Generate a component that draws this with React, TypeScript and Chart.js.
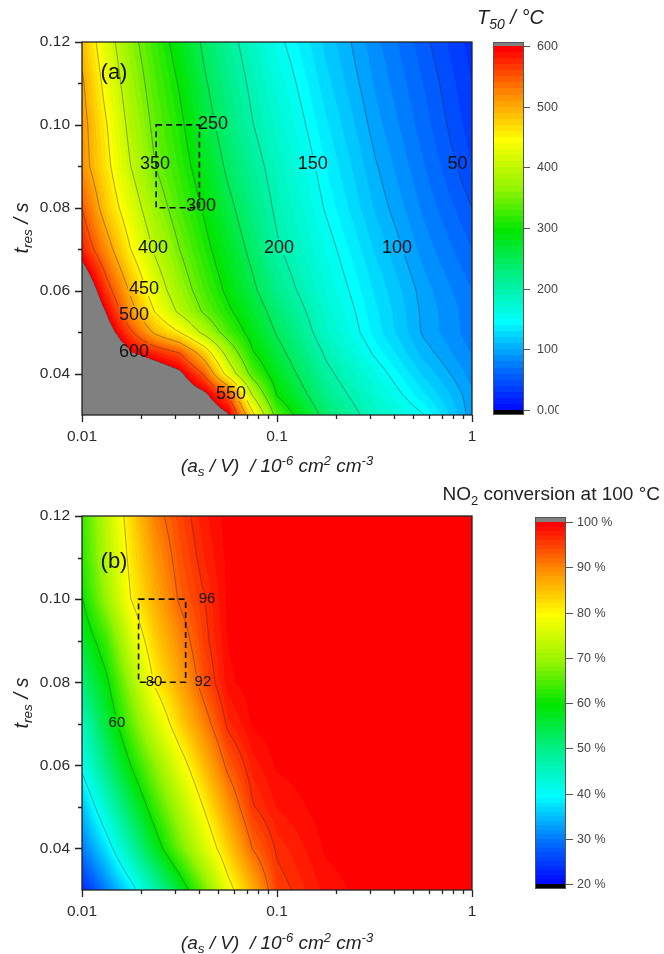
import React, { useEffect, useRef } from "react";
import { Chart, registerables } from "chart.js";
Chart.register(...registerables);

// ---------------- data ----------------
// x grid: (a_s / V) / 1e-6 cm2 cm-3  (log axis)
const AS_V = [0.01, 0.01334, 0.01778, 0.02371, 0.03162, 0.04217, 0.05623, 0.07499, 0.1, 0.1778, 0.3162, 0.5623, 1];

// panel (a): T50 / °C
const T_RES_A = [0.03, 0.035, 0.04, 0.045, 0.05, 0.055, 0.06, 0.07, 0.08, 0.09, 0.1, 0.11, 0.12];
const T50_030 = [780, 760, 730, 700, 670, 640, 605, 462, 333, 237, 185, 151, 93];
const T50_035 = [760, 730, 700, 670, 640, 610, 550, 395, 297, 221, 174, 132, 92];
const T50_040 = [740, 700, 670, 640, 610, 546, 430, 334, 278, 208, 162, 118, 85];
const T50_045 = [720, 660, 602, 576, 550, 479, 381, 303, 262, 196, 147, 106, 79];
const T50_050 = [700, 625, 556, 492, 450, 388, 329, 284, 247, 183, 136, 98, 74];
const T50_055 = [675, 597, 514, 448, 392, 345, 306, 271, 235, 176, 133, 97, 74];
const T50_060 = [653, 567, 494, 426, 373, 330, 292, 257, 221, 169, 129, 95, 70];
const T50_070 = [580, 518, 450, 394, 350, 311, 275, 240, 204, 159, 119, 86, 60];
const T50_080 = [550, 480, 423, 371, 331, 296, 259, 225, 194, 148, 109, 78, 50];
const T50_090 = [518, 461, 400, 350, 317, 281, 243, 213, 186, 140, 102, 71, 40];
const T50_100 = [515, 452, 387, 341, 308, 266, 231, 201, 176, 132, 95, 65, 34];
const T50_110 = [506, 436, 375, 332, 297, 255, 222, 193, 167, 124, 89, 60, 30];
const T50_120 = [490, 421, 363, 322, 284, 244, 212, 183, 156, 117, 84, 54, 25];

// panel (b): NO2 conversion at 100 °C / %
const T_RES_B = [0.03, 0.04, 0.05, 0.06, 0.07, 0.08, 0.09, 0.1, 0.11, 0.12];
const CONV_030 = [23, 30.5, 38, 46.8, 56, 66.6, 78.1, 86.3, 95, 98.4, 99.7, 100, 100];
const CONV_040 = [30, 37.6, 46.9, 57.1, 66.4, 75.4, 84, 92.2, 96.4, 99.2, 99.9, 100, 100];
const CONV_050 = [35, 44.2, 53.8, 63.1, 71.7, 80.3, 88.7, 95.8, 98.1, 99.6, 100, 100, 100];
const CONV_060 = [41, 50.5, 60, 68.6, 77.2, 85.4, 93.1, 97.5, 99.2, 99.8, 100, 100, 100];
const CONV_070 = [45, 55.4, 65.4, 75, 83.3, 90.1, 96.7, 99.2, 99.8, 100, 100, 100, 100];
const CONV_080 = [51, 59, 70, 80.8, 87, 93.8, 98.7, 99.7, 100, 100, 100, 100, 100];
const CONV_090 = [56, 63.3, 75.2, 83.6, 89.6, 95.2, 99.1, 99.8, 100, 100, 100, 100, 100];
const CONV_100 = [59.7, 69.6, 80, 86.5, 92.5, 95.9, 99.3, 99.9, 100, 100, 100, 100, 100];
const CONV_110 = [62, 72, 81.4, 88.4, 93.6, 97, 99.4, 100, 100, 100, 100, 100, 100];
const CONV_120 = [63, 73, 82.8, 90.5, 94.6, 97.7, 99.6, 100, 100, 100, 100, 100, 100];

const T50_LEVELS = [50, 100, 150, 200, 250, 300, 350, 400, 450, 500, 550, 600];
const CONV_LEVELS = [40, 60, 80, 92, 96];

const T50_LABEL_TEXT = ["250", "350", "300", "150", "50", "400", "200", "100", "450", "500", "600", "550"];
const T50_LABEL_X = [0.047, 0.0237, 0.0408, 0.1527, 0.8417, 0.0231, 0.1024, 0.4121, 0.0208, 0.0185, 0.0185, 0.0581];
const T50_LABEL_Y = [0.1005, 0.0908, 0.0807, 0.0908, 0.0908, 0.0705, 0.0705, 0.0705, 0.0606, 0.0544, 0.0455, 0.0353];

const CONV_LABEL_TEXT = ["96", "92", "80", "60"];
const CONV_LABEL_X = [0.0438, 0.0417, 0.0234, 0.0151];
const CONV_LABEL_Y = [0.1003, 0.0803, 0.0803, 0.0704];

const BOX_A_X = [0.024, 0.04];
const BOX_A_Y = [0.08, 0.1];
const BOX_B_X = [0.0195, 0.034];
const BOX_B_Y = [0.08, 0.1];

const X_MAJOR = [0.01, 0.1, 1];
const X_MINOR = [0.02, 0.03, 0.04, 0.05, 0.06, 0.07, 0.08, 0.09, 0.2, 0.3, 0.4, 0.5, 0.6, 0.7, 0.8, 0.9];
const Y_MAJOR = [0.04, 0.06, 0.08, 0.1, 0.12];
const Y_MINOR = [0.05, 0.07, 0.09, 0.11];

const T50_BAR_TICKS = [0, 100, 200, 300, 400, 500, 600];
const T50_BAR_LABELS = ["0.00", "100", "200", "300", "400", "500", "600"];
const CONV_BAR_TICKS = [20, 30, 40, 50, 60, 70, 80, 90, 100];
const CONV_BAR_LABELS = ["20 %", "30 %", "40 %", "50 %", "60 %", "70 %", "80 %", "90 %", "100 %"];

// ---------------- helpers ----------------
const FAMILY = "'Liberation Sans', Arial, Helvetica, sans-serif";
const CM_POS = [0, 0.12, 0.25, 0.375, 0.5, 0.62, 0.75, 0.875, 1];
const CM_RGB = [
  [0, 0, 255], [0, 110, 255], [0, 255, 255], [0, 240, 140], [0, 230, 0],
  [150, 245, 0], [255, 255, 0], [255, 140, 0], [255, 0, 0],
];

function cmap(f: number): number[] {
  f = Math.max(0, Math.min(1, f));
  let k = 0;
  while (k < CM_POS.length - 2 && f > CM_POS[k + 1]) k++;
  const r = (f - CM_POS[k]) / (CM_POS[k + 1] - CM_POS[k]);
  const a = CM_RGB[k], b = CM_RGB[k + 1];
  return [a[0] + (b[0] - a[0]) * r, a[1] + (b[1] - a[1]) * r, a[2] + (b[2] - a[2]) * r];
}

function colorFor(v: number, vmin: number, vmax: number, step: number): number[] {
  if (v > vmax + 1e-6) return [128, 128, 128];
  if (v < vmin) return [0, 0, 0];
  const q = Math.min(vmax, Math.floor((v - vmin) / step) * step + vmin + step);
  return cmap((q - vmin) / (vmax - vmin));
}

function makeField(xs: number[], ys: number[], rows: number[][]) {
  const lx = xs.map((v) => Math.log10(v));
  return (x: number, y: number) => {
    const u = Math.log10(x);
    let i = 0;
    while (i < lx.length - 2 && u > lx[i + 1]) i++;
    let j = 0;
    while (j < ys.length - 2 && y > ys[j + 1]) j++;
    const fx = Math.max(0, Math.min(1, (u - lx[i]) / (lx[i + 1] - lx[i])));
    const fy = Math.max(0, Math.min(1, (y - ys[j]) / (ys[j + 1] - ys[j])));
    const a = rows[j][i], b = rows[j][i + 1], c = rows[j + 1][i], d = rows[j + 1][i + 1];
    return a * (1 - fx) * (1 - fy) + b * fx * (1 - fy) + c * (1 - fx) * fy + d * fx * fy;
  };
}

type Rich = { t: string; s: number; dy?: number; it?: boolean };

function drawRich(ctx: CanvasRenderingContext2D, parts: Rich[], x: number, y: number, align: string, color: string) {
  const fonts = parts.map((p) => `${p.it ? "italic " : ""}${p.s}px ${FAMILY}`);
  let total = 0;
  const ws = parts.map((p, k) => {
    ctx.font = fonts[k];
    const w = ctx.measureText(p.t).width;
    total += w;
    return w;
  });
  let cx = align === "center" ? x - total / 2 : align === "right" ? x - total : x;
  ctx.fillStyle = color;
  ctx.textAlign = "left";
  ctx.textBaseline = "alphabetic";
  parts.forEach((p, k) => {
    ctx.font = fonts[k];
    ctx.fillText(p.t, cx, y + (p.dy || 0));
    cx += ws[k];
  });
}

function marching(ctx: CanvasRenderingContext2D, F: Float32Array, W: number, H: number, L: number, T: number, level: number) {
  ctx.beginPath();
  const s = 1;
  for (let j = 0; j + s < H; j += s) {
    for (let i = 0; i + s < W; i += s) {
      const a = F[j * W + i], b = F[j * W + i + s], c = F[(j + s) * W + i + s], d = F[(j + s) * W + i];
      const idx = (a > level ? 8 : 0) | (b > level ? 4 : 0) | (c > level ? 2 : 0) | (d > level ? 1 : 0);
      if (idx === 0 || idx === 15) continue;
      const x0 = L + i + 0.5, y0 = T + j + 0.5;
      const pT = () => [x0 + (s * (level - a)) / (b - a), y0];
      const pR = () => [x0 + s, y0 + (s * (level - b)) / (c - b)];
      const pB = () => [x0 + (s * (level - d)) / (c - d), y0 + s];
      const pL = () => [x0, y0 + (s * (level - a)) / (d - a)];
      const seg = (p: number[], q: number[]) => {
        ctx.moveTo(p[0], p[1]);
        ctx.lineTo(q[0], q[1]);
      };
      switch (idx) {
        case 1: case 14: seg(pL(), pB()); break;
        case 2: case 13: seg(pB(), pR()); break;
        case 3: case 12: seg(pL(), pR()); break;
        case 4: case 11: seg(pT(), pR()); break;
        case 5: seg(pT(), pR()); seg(pL(), pB()); break;
        case 6: case 9: seg(pT(), pB()); break;
        case 7: case 8: seg(pL(), pT()); break;
        case 10: seg(pL(), pT()); seg(pB(), pR()); break;
      }
    }
  }
  ctx.stroke();
}

const X_TITLE: Rich[] = [
  { t: "(a", s: 19, it: true },
  { t: "s", s: 13.5, it: true, dy: 4 },
  { t: " / V)  / 10", s: 19, it: true },
  { t: "-6", s: 13, it: true, dy: -7 },
  { t: " cm", s: 19, it: true },
  { t: "2", s: 13, it: true, dy: -7 },
  { t: " cm", s: 19, it: true },
  { t: "-3", s: 13, it: true, dy: -7 },
];
const Y_TITLE: Rich[] = [
  { t: "t", s: 20, it: true },
  { t: "res", s: 13.5, it: true, dy: 4 },
  { t: " / s", s: 20, it: true },
];

interface Panel {
  id: string;
  padTop: number;
  xAxisH: number;
  ys: number[];
  rows: number[][];
  vmin: number;
  vmax: number;
  step: number;
  levels: number[];
  labText: string[];
  labX: number[];
  labY: number[];
  labSize: number;
  boxX: number[];
  boxY: number[];
  letter: string;
  letterX: number;
  letterY: number;
  cb: { x0: number; x1: number; yTop: number; yBot: number; capTop: number; capBot: number; tickEnd: number; labelX: number; clipRight: number };
  cbTicks: number[];
  cbLabels: string[];
  cbTitle: Rich[];
  cbTitleX: number;
  cbTitleY: number;
  cbTitleAlign: string;
  yTitleCenter: number;
}

const PANEL_A: Panel = {
  id: "a",
  padTop: 42,
  xAxisH: 62,
  ys: T_RES_A,
  rows: [T50_030, T50_035, T50_040, T50_045, T50_050, T50_055, T50_060, T50_070, T50_080, T50_090, T50_100, T50_110, T50_120],
  vmin: 0,
  vmax: 600,
  step: 10,
  levels: T50_LEVELS,
  labText: T50_LABEL_TEXT,
  labX: T50_LABEL_X,
  labY: T50_LABEL_Y,
  labSize: 18,
  boxX: BOX_A_X,
  boxY: BOX_A_Y,
  letter: "(a)",
  letterX: 114,
  letterY: 73,
  cb: { x0: 493, x1: 524, yTop: 46, yBot: 410, capTop: 42, capBot: 415, tickEnd: 530, labelX: 537, clipRight: 559 },
  cbTicks: T50_BAR_TICKS,
  cbLabels: T50_BAR_LABELS,
  cbTitle: [
    { t: "T", s: 20, it: true },
    { t: "50", s: 14, it: true, dy: 5 },
    { t: " / °C", s: 20, it: true },
  ],
  cbTitleX: 477,
  cbTitleY: 24,
  cbTitleAlign: "left",
  yTitleCenter: 228,
};

const PANEL_B: Panel = {
  id: "b",
  padTop: 39,
  xAxisH: 64,
  ys: T_RES_B,
  rows: [CONV_030, CONV_040, CONV_050, CONV_060, CONV_070, CONV_080, CONV_090, CONV_100, CONV_110, CONV_120],
  vmin: 20,
  vmax: 100,
  step: 1,
  levels: CONV_LEVELS,
  labText: CONV_LABEL_TEXT,
  labX: CONV_LABEL_X,
  labY: CONV_LABEL_Y,
  labSize: 15,
  boxX: BOX_B_X,
  boxY: BOX_B_Y,
  letter: "(b)",
  letterX: 114,
  letterY: 85,
  cb: { x0: 535, x1: 566, yTop: 45, yBot: 407, capTop: 40, capBot: 412, tickEnd: 573, labelX: 577, clipRight: 664 },
  cbTicks: CONV_BAR_TICKS,
  cbLabels: CONV_BAR_LABELS,
  cbTitle: [
    { t: "NO", s: 19 },
    { t: "2", s: 13, dy: 5 },
    { t: " conversion at 100 °C", s: 19 },
  ],
  cbTitleX: 660,
  cbTitleY: 23,
  cbTitleAlign: "right",
  yTitleCenter: 226,
};

function buildChart(canvas: HTMLCanvasElement, cfg: Panel) {
  const field = makeField(AS_V, cfg.ys, cfg.rows);
  let store: { F: Float32Array; img: ImageData; L: number; T: number; W: number; H: number } | null = null;

  const plugin = {
    id: "contourfill" + cfg.id,
    beforeDatasetsDraw(chart: any) {
      const ctx: CanvasRenderingContext2D = chart.ctx;
      const area = chart.chartArea;
      const xs = chart.scales.x, ys = chart.scales.y;
      const L = Math.round(area.left), T = Math.round(area.top);
      const W = Math.round(area.right) - L, H = Math.round(area.bottom) - T;
      const img = ctx.createImageData(W, H);
      const F = new Float32Array(W * H);
      const colX = new Array(W);
      for (let i = 0; i < W; i++) colX[i] = xs.getValueForPixel(L + i + 0.5);
      for (let j = 0; j < H; j++) {
        const y = ys.getValueForPixel(T + j + 0.5);
        for (let i = 0; i < W; i++) {
          const v = field(colX[i], y);
          F[j * W + i] = v;
          const c = colorFor(v, cfg.vmin, cfg.vmax, cfg.step);
          const o = (j * W + i) * 4;
          img.data[o] = c[0];
          img.data[o + 1] = c[1];
          img.data[o + 2] = c[2];
          img.data[o + 3] = 255;
        }
      }
      ctx.putImageData(img, L, T);
      store = { F, img, L, T, W, H };
    },
    afterDraw(chart: any) {
      if (!store) return;
      const ctx: CanvasRenderingContext2D = chart.ctx;
      const area = chart.chartArea;
      const xs = chart.scales.x, ys = chart.scales.y;
      const { F, img, L, T, W, H } = store;

      // contour lines
      ctx.save();
      ctx.strokeStyle = "rgba(40,40,40,0.55)";
      ctx.lineWidth = 0.8;
      cfg.levels.forEach((lv) => marching(ctx, F, W, H, L, T, lv));
      ctx.restore();

      // contour labels (restore fill under text, then write)
      ctx.save();
      ctx.font = `${cfg.labSize}px ${FAMILY}`;
      cfg.labText.forEach((txt, k) => {
        const px = xs.getPixelForValue(cfg.labX[k]);
        const py = ys.getPixelForValue(cfg.labY[k]);
        const tw = ctx.measureText(txt).width;
        const th = cfg.labSize * 0.78;
        const rx = Math.round(px - tw / 2 - 1), ry = Math.round(py - th / 2 - 1);
        const rw = Math.round(tw + 2), rh = Math.round(th + 2);
        ctx.putImageData(img, L, T, rx - L, ry - T, rw, rh);
        ctx.fillStyle = "#111";
        ctx.textAlign = "center";
        ctx.textBaseline = "middle";
        ctx.fillText(txt, px, py + 1);
      });
      ctx.restore();

      // dashed box
      ctx.save();
      ctx.strokeStyle = "#111";
      ctx.lineWidth = 1.6;
      ctx.setLineDash([6, 4]);
      const bx0 = xs.getPixelForValue(cfg.boxX[0]), bx1 = xs.getPixelForValue(cfg.boxX[1]);
      const by0 = ys.getPixelForValue(cfg.boxY[1]), by1 = ys.getPixelForValue(cfg.boxY[0]);
      ctx.strokeRect(bx0, by0, bx1 - bx0, by1 - by0);
      ctx.restore();

      // frame + ticks
      ctx.save();
      ctx.strokeStyle = "#222";
      ctx.lineWidth = 1.3;
      ctx.strokeRect(area.left, area.top, area.right - area.left, area.bottom - area.top);
      ctx.beginPath();
      Y_MAJOR.forEach((v) => {
        const y = Math.round(ys.getPixelForValue(v)) + 0.5;
        ctx.moveTo(area.left - 7, y);
        ctx.lineTo(area.left, y);
      });
      Y_MINOR.forEach((v) => {
        const y = Math.round(ys.getPixelForValue(v)) + 0.5;
        ctx.moveTo(area.left - 4, y);
        ctx.lineTo(area.left, y);
      });
      X_MAJOR.forEach((v) => {
        const x = Math.round(xs.getPixelForValue(v)) + 0.5;
        ctx.moveTo(x, area.bottom);
        ctx.lineTo(x, area.bottom + 7);
      });
      X_MINOR.forEach((v) => {
        const x = Math.round(xs.getPixelForValue(v)) + 0.5;
        ctx.moveTo(x, area.bottom);
        ctx.lineTo(x, area.bottom + 4);
      });
      ctx.stroke();
      ctx.restore();

      // panel letter
      ctx.save();
      ctx.font = `22px ${FAMILY}`;
      ctx.fillStyle = "#111";
      ctx.textAlign = "center";
      ctx.textBaseline = "middle";
      ctx.fillText(cfg.letter, cfg.letterX, cfg.letterY);
      ctx.restore();

      // colour bar
      const cb = cfg.cb;
      ctx.save();
      for (let py = cb.yTop; py < cb.yBot; py++) {
        const v = cfg.vmin + ((cb.yBot - py - 0.5) / (cb.yBot - cb.yTop)) * (cfg.vmax - cfg.vmin);
        const c = colorFor(v, cfg.vmin, cfg.vmax, cfg.step);
        ctx.fillStyle = `rgb(${c[0] | 0},${c[1] | 0},${c[2] | 0})`;
        ctx.fillRect(cb.x0, py, cb.x1 - cb.x0, 1);
      }
      ctx.fillStyle = "rgb(128,128,128)";
      ctx.fillRect(cb.x0, cb.capTop, cb.x1 - cb.x0, cb.yTop - cb.capTop);
      ctx.fillStyle = "#000";
      ctx.fillRect(cb.x0, cb.yBot, cb.x1 - cb.x0, cb.capBot - cb.yBot);
      ctx.strokeStyle = "#555";
      ctx.lineWidth = 1;
      ctx.strokeRect(cb.x0 + 0.5, cb.capTop + 0.5, cb.x1 - cb.x0 - 1, cb.capBot - cb.capTop - 1);
      ctx.beginPath();
      ctx.rect(0, 0, cb.clipRight, chart.height);
      ctx.clip();
      ctx.beginPath();
      cfg.cbTicks.forEach((v, k) => {
        const y = Math.round(cb.yBot - ((v - cfg.vmin) / (cfg.vmax - cfg.vmin)) * (cb.yBot - cb.yTop)) + 0.5;
        ctx.moveTo(cb.x1, y);
        ctx.lineTo(cb.tickEnd, y);
        ctx.fillStyle = "#444";
        ctx.font = `12.5px ${FAMILY}`;
        ctx.textAlign = "left";
        ctx.textBaseline = "middle";
        ctx.fillText(cfg.cbLabels[k], cb.labelX, y);
      });
      ctx.strokeStyle = "#555";
      ctx.stroke();
      ctx.restore();

      // titles
      ctx.save();
      drawRich(ctx, cfg.cbTitle, cfg.cbTitleX, cfg.cbTitleY, cfg.cbTitleAlign, "#222");
      drawRich(ctx, X_TITLE, (area.left + area.right) / 2, 472, "center", "#222");
      ctx.translate(22, cfg.yTitleCenter);
      ctx.rotate(-Math.PI / 2);
      drawRich(ctx, Y_TITLE, 0, 6, "center", "#222");
      ctx.restore();
    },
  };

  const tickFont = { family: FAMILY, size: 15.5 };
  return new Chart(canvas, {
    type: "scatter",
    data: { datasets: [{ data: [] as any[] }] },
    options: {
      animation: false,
      responsive: false,
      maintainAspectRatio: false,
      devicePixelRatio: 1,
      events: [],
      layout: { padding: { top: cfg.padTop, right: 192, bottom: 0, left: 0 } },
      plugins: { legend: { display: false }, tooltip: { enabled: false } },
      scales: {
        x: {
          type: "logarithmic",
          min: 0.01,
          max: 1,
          position: "bottom",
          grid: { display: false, drawTicks: true, tickLength: 8 },
          border: { display: false },
          ticks: {
            padding: 4,
            color: "#2b2b2b",
            font: tickFont,
            autoSkip: false,
            maxRotation: 0,
            minRotation: 0,
            callback: (v: any) => String(v),
          },
          afterBuildTicks: (s: any) => {
            s.ticks = X_MAJOR.map((v) => ({ value: v }));
          },
          afterFit: (s: any) => {
            s.height = cfg.xAxisH;
          },
        },
        y: {
          type: "linear",
          min: 0.03,
          max: 0.12,
          grid: { display: false, drawTicks: true, tickLength: 8 },
          border: { display: false },
          ticks: {
            padding: 4,
            color: "#2b2b2b",
            font: tickFont,
            callback: (v: any) => Number(v).toFixed(2),
          },
          afterBuildTicks: (s: any) => {
            s.ticks = Y_MAJOR.map((v) => ({ value: v }));
          },
          afterFit: (s: any) => {
            s.width = 82;
          },
        },
      },
    } as any,
    plugins: [plugin],
  });
}

export default function App() {
  const refA = useRef<HTMLCanvasElement>(null);
  const refB = useRef<HTMLCanvasElement>(null);
  useEffect(() => {
    const a = buildChart(refA.current!, PANEL_A);
    const b = buildChart(refB.current!, PANEL_B);
    return () => {
      a.destroy();
      b.destroy();
    };
  }, []);
  return (
    <div style={{ position: "absolute", left: 0, top: 0, width: 664, height: 954, background: "#fff" }}>
      <canvas ref={refA} width={664} height={477} style={{ position: "absolute", left: 0, top: 0, width: 664, height: 477 }} />
      <canvas ref={refB} width={664} height={477} style={{ position: "absolute", left: 0, top: 477, width: 664, height: 477 }} />
    </div>
  );
}
